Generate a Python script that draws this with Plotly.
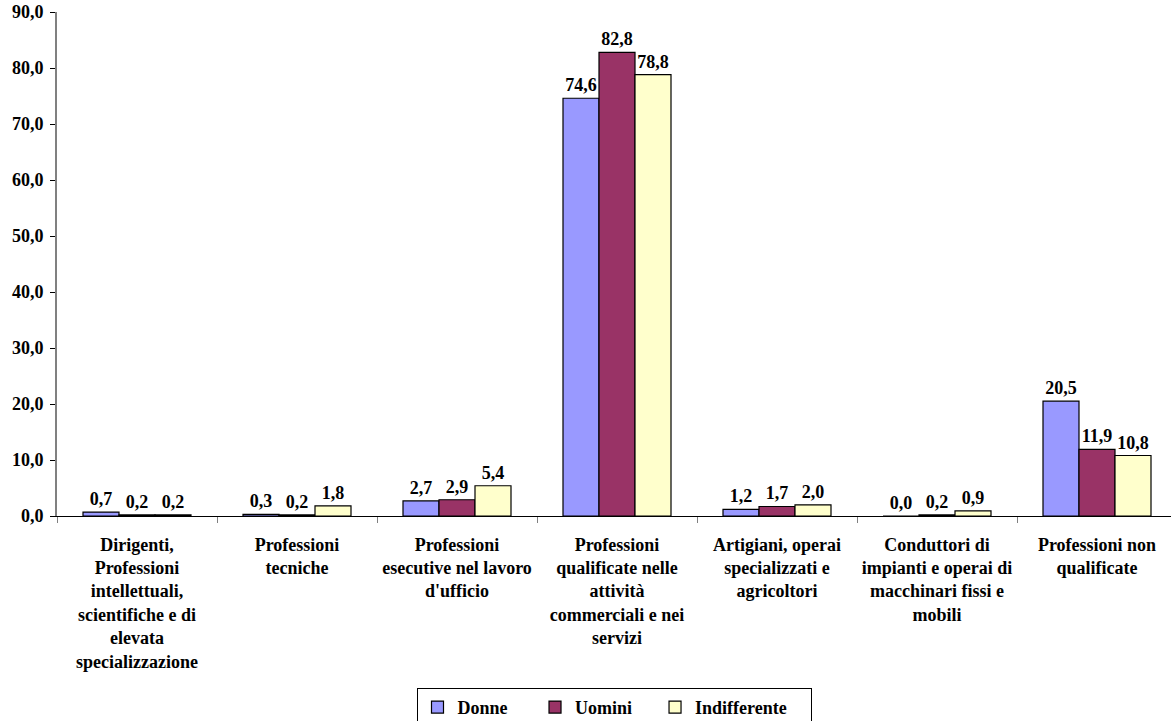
import plotly.graph_objects as go

categories = [
    "Dirigenti,<br>Professioni<br>intellettuali,<br>scientifiche e di<br>elevata<br>specializzazione",
    "Professioni<br>tecniche",
    "Professioni<br>esecutive nel lavoro<br>d'ufficio",
    "Professioni<br>qualificate nelle<br>attività<br>commerciali e nei<br>servizi",
    "Artigiani, operai<br>specializzati e<br>agricoltori",
    "Conduttori di<br>impianti e operai di<br>macchinari fissi e<br>mobili",
    "Professioni non<br>qualificate",
]
series_names = ["Donne", "Uomini", "Indifferente"]
donne = [0.7, 0.3, 2.7, 74.6, 1.2, 0.0, 20.5]
uomini = [0.2, 0.2, 2.9, 82.8, 1.7, 0.2, 11.9]
indifferente = [0.2, 1.8, 5.4, 78.8, 2.0, 0.9, 10.8]

colors = ["#9999FF", "#993366", "#FFFFCC"]
# trailing non-breaking spaces widen the legend entries like the original
pads = [5, 4, 4]

FONT = "Liberation Serif"
fig = go.Figure()
for name, vals, col, pad in zip(series_names, [donne, uomini, indifferente], colors, pads):
    fig.add_trace(go.Bar(
        name=name + "\u00a0" * pad, x=categories, y=vals,
        marker=dict(color=col, line=dict(color="black", width=1.2)),
        texttemplate="%{y:.1f}", textposition="outside", constraintext="none",
        cliponaxis=False,
        textfont=dict(family=FONT, size=18, color="black", weight="bold"),
    ))

fig.update_layout(
    width=1171, height=721,
    margin=dict(l=57, r=0, t=12, b=205, autoexpand=False),
    paper_bgcolor="white", plot_bgcolor="white",
    separators=",.",
    barmode="group", bargap=0.325, bargroupgap=0,
    font=dict(family=FONT, size=18, color="black", weight="bold"),
    showlegend=True,
    legend=dict(
        orientation="h", x=0.5, xanchor="center", y=-0.341, yanchor="top",
        bordercolor="black", borderwidth=1, bgcolor="white",
        font=dict(family=FONT, size=18, color="black", weight="bold"),
        itemwidth=30,
    ),
    xaxis=dict(
        range=[-0.5, 6.4625], tickson="boundaries", ticks="outside", ticklen=6,
        tickcolor="#808080", showline=True, linecolor="black", linewidth=1,
        showgrid=False, tickangle=0, zeroline=False, automargin=False,
        ticklabelstandoff=12, ticklabeloverflow="allow",
    ),
    yaxis=dict(
        range=[0, 90], dtick=10, tickformat=".1f", ticks="outside", ticklen=5,
        tickcolor="black", showline=True, linecolor="#808080", linewidth=2,
        showgrid=False, zeroline=False, ticklabelstandoff=3, automargin=False,
        ticklabeloverflow="allow",
    ),
)
fig.write_html("out.html", config={"displayModeBar": False},
               post_script="document.body.style.margin='0';")
